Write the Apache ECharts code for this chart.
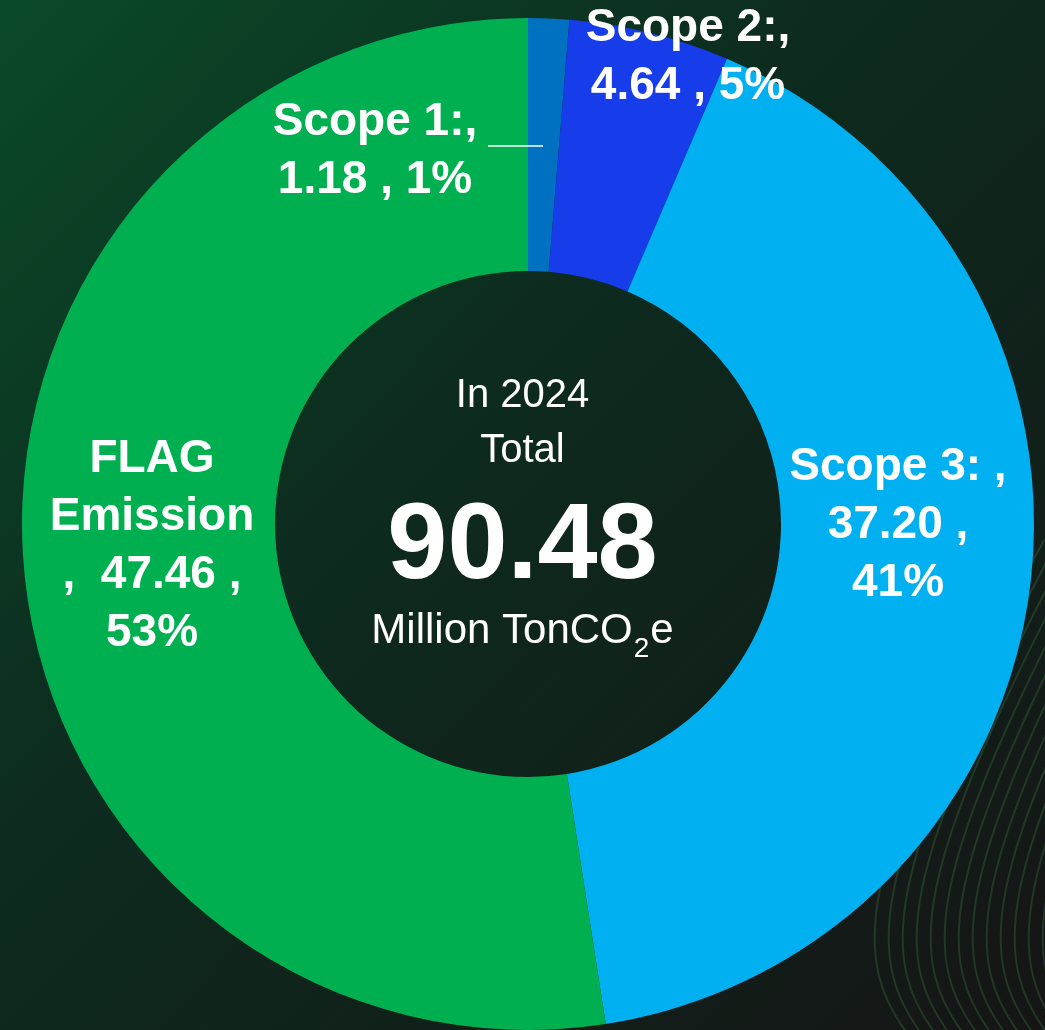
<!DOCTYPE html>
<html>
<head>
<meta charset="utf-8">
<style>
  html, body { margin: 0; padding: 0; background: #151515; }
  #emission { width: 1045px; height: 1030px; }
</style>
<script src="https://cdn.jsdelivr.net/npm/echarts@6/dist/echarts.min.js"></script>
</head>
<body>
<div id="emission"></div>
<script>
// 排放数据 (Million TonCO2e, 2024)
const categories = ['Scope 1', 'Scope 2', 'Scope 3', 'FLAG Emission'];
const values = [1.18, 4.64, 37.20, 47.46];
const colors = ['#0070C0', '#173DEB', '#00B0F0', '#00B050'];
const yearText = 'In 2024';
const totalText = '90.48';

// label 文字排版（每个扇区不一样）
const labelTexts = [
    (v, p) => 'Scope 1:,\n' + v + ' , ' + p + '%',
    (v, p) => 'Scope 2:,\n' + v + ' , ' + p + '%',
    (v, p) => 'Scope 3: ,\n' + v + ' ,\n' + p + '%',
    (v, p) => 'FLAG\nEmission\n,  ' + v + ' ,\n' + p + '%'
];
// label 中心位置
const labelSpots = [[375, 151], [688, 57], [898, 525], [152, 546]];

const chartDom = document.getElementById('emission');
const chart = echarts.init(chartDom);

// 右下角的装饰曲线
const waves = [];
for (let i = 0; i < 14; i++) {
    const dx = i * 14;
    waves.push({
        type: 'bezierCurve',
        z: -10,
        silent: true,
        shape: {
            x1: 912 + dx, y1: 1040,
            cpx1: 850 + dx, cpy1: 960,
            cpx2: 850 + dx, cpy2: 880,
            x2: 1030 + dx, y2: 540
        },
        style: { stroke: 'rgba(55,105,60,0.4)', lineWidth: 2, fill: null }
    });
}

const option = {
    backgroundColor: {
        type: 'linear', x: 0, y: 0, x2: 1, y2: 1,
        colorStops: [
            { offset: 0, color: '#0a4a28' },
            { offset: 0.4, color: '#0d2c1f' },
            { offset: 1, color: '#151515' }
        ]
    },
    textStyle: { fontFamily: '"Liberation Sans", Arial, sans-serif' },
    graphic: waves.concat([
        {
            type: 'text', left: 'center', top: 376, z: 100,
            style: { text: yearText, fill: '#fff', font: '40px "Liberation Sans"', textAlign: 'center' }
        },
        {
            type: 'text', left: 'center', top: 431, z: 100,
            style: { text: 'Total', fill: '#fff', font: '40px "Liberation Sans"', textAlign: 'center' }
        },
        {
            type: 'text', left: 'center', top: 494, z: 100,
            style: { text: totalText, fill: '#fff', font: 'bold 108px "Liberation Sans"', textAlign: 'center' }
        },
        {
            type: 'text', left: 'center', top: 610, z: 100,
            style: {
                text: '{a|Million TonCO}{s|2}{a|e}',
                fill: '#fff',
                rich: {
                    a: { fontSize: 42, fontFamily: '"Liberation Sans"', color: '#fff', verticalAlign: 'bottom' },
                    s: { fontSize: 28, fontFamily: '"Liberation Sans"', color: '#fff', padding: [0, 1, -11, 1], verticalAlign: 'bottom' }
                }
            }
        },
        {
            // Scope 1 的引线
            type: 'line', z: 100, silent: true,
            shape: { x1: 488, y1: 146, x2: 543, y2: 146 },
            style: { stroke: '#fff', lineWidth: 1.5 }
        }
    ]),
    series: [
        {
            type: 'pie',
            center: [528, 524],
            radius: [253, 506],
            startAngle: 90,
            clockwise: true,
            avoidLabelOverlap: false,
            percentPrecision: 0,
            data: categories.map((name, i) => ({
                name: name,
                value: values[i],
                itemStyle: { color: colors[i] }
            })),
            itemStyle: { borderWidth: 0 },
            label: {
                show: true,
                position: 'inside',
                color: '#fff',
                fontSize: 46,
                fontWeight: 'bold',
                lineHeight: 58,
                align: 'center',
                fontFamily: '"Liberation Sans", Arial, sans-serif',
                formatter: (p) => labelTexts[p.dataIndex](p.value.toFixed(2), Math.round(p.percent))
            },
            labelLine: { show: false },
            labelLayout: (params) => {
                const spot = labelSpots[params.dataIndex];
                return { x: spot[0], y: spot[1], align: 'center', verticalAlign: 'middle' };
            },
            emphasis: { disabled: true }
        }
    ]
};

chart.setOption(option);
</script>
</body>
</html>
